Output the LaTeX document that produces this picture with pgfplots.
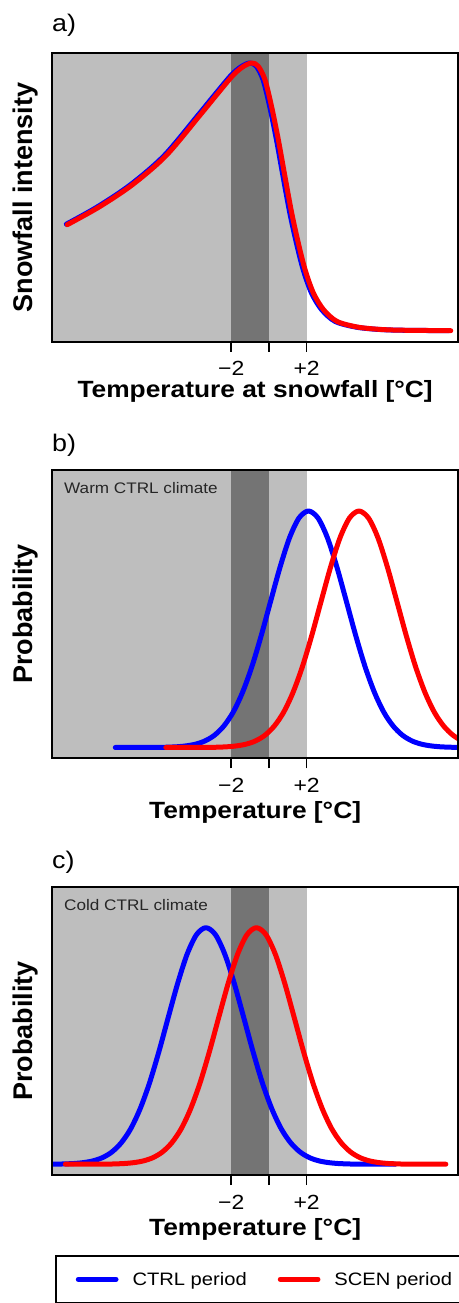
\documentclass[border=0pt]{standalone}
\usepackage{fontspec}
\setmainfont{Liberation Sans}
\newfontfamily\wide{Liberation Sans}[FakeStretch=1.12]
\usepackage{pgfplots}
\pgfplotsset{compat=1.18}
\definecolor{lightband}{RGB}{190,190,190}
\definecolor{darkband}{RGB}{116,116,116}
\definecolor{ctrlblue}{RGB}{0,0,255}
\definecolor{scenred}{RGB}{255,0,0}
\pgfplotsset{
  panel/.style={
    scale only axis, width=406.3bp, height=288.4bp,
    xmin=-11.51, xmax=10.05, ymin=0, ymax=288.4,
    axis on top,
    axis line style={line width=2bp},
    xtick={-2,0,2}, xticklabels={−2,,+2},
    ytick=\empty,
    xtick pos=left,
    tick align=outside,
    major tick length=10bp,
    every tick/.style={black, line width=1.5bp},
    xticklabel style={font=\wide\fontsize{20.5bp}{22bp}\selectfont, anchor=base, inner sep=0pt, yshift=-24bp},
    every axis y label/.style={at={(axis description cs:-0.0468,0.5)}, rotate=90, anchor=base, inner sep=0pt, font=\fontsize{27bp}{30bp}\selectfont\bfseries},
    every axis x label/.style={at={(axis description cs:0.5,0)}, anchor=base, inner sep=0pt, yshift=-60bp, font=\wide\fontsize{23.5bp}{26bp}\selectfont\bfseries},
    clip=true,
  },
  curve/.style={line width=5bp, line cap=round, line join=round, smooth, no markers},
  band/.style={draw=none, fill=#1, forget plot},
}
\begin{document}
\begin{tikzpicture}
\path[use as bounding box] (0bp,0bp) rectangle (459bp,1303bp);
\begin{scope}
\clip (0bp,0bp) rectangle (459bp,1303bp);

% ---------------- panel a
\begin{axis}[panel, at={(52bp,961.3bp)}, anchor=south west,
  xlabel={Temperature at snowfall [°C]}, ylabel={Snowfall intensity},
  every axis x label/.append style={yshift=4bp}]
\addplot[band=lightband] coordinates {(-11.51,288.4) (2,288.4)} \closedcycle;
\addplot[band=darkband] coordinates {(-2,288.4) (0,288.4)} \closedcycle;
\addplot[curve, ctrlblue] coordinates {(-10.75,117.5) (-9.11,134.7) (-7.34,157) (-5.56,186) (-3.78,226) (-2.89,246.5) (-2.00,266.5) (-1.47,275) (-1.02,278.7) (-0.67,275.5) (-0.31,262) (0.04,235.3) (0.40,202) (0.75,165.3) (1.11,128.7) (1.46,98.7) (1.82,72) (2.26,48.7) (2.80,32) (3.51,20.3) (4.58,14.7) (5.70,12.4) (6.89,11.5) (9.55,11)};
\addplot[curve, scenred] coordinates {(-10.70,117) (-9.01,134.7) (-7.24,157) (-5.46,186) (-3.68,226) (-2.79,246.5) (-1.90,266.5) (-1.37,275) (-0.92,278.7) (-0.57,275.5) (-0.21,262) (0.14,235.3) (0.50,202) (0.85,165.3) (1.21,128.7) (1.56,98.7) (1.92,72) (2.36,48.7) (2.90,32) (3.61,20.3) (4.68,14.7) (5.80,12.4) (6.99,11.5) (9.65,11)};
\end{axis}

% ---------------- panel b
\begin{axis}[panel, at={(52bp,544.7bp)}, anchor=south west,
  xlabel={Temperature [°C]}, ylabel={Probability}]
\addplot[band=lightband] coordinates {(-11.51,288.4) (2,288.4)} \closedcycle;
\addplot[band=darkband] coordinates {(-2,288.4) (0,288.4)} \closedcycle;
\addplot[curve, ctrlblue] table {
T y
-8.15 10.8
-5.9 10.9
-5.4 11.1
-4.9 11.5
-4.4 12.4
-3.9 14.1
-3.4 17.3
-2.9 22.9
-2.4 32.1
-1.9 46.0
-1.4 65.9
-0.9 91.8
-0.4 123.2
0.1 157.7
0.6 191.7
1.1 220.8
1.6 240.4
2.1 247.3
2.6 240.4
3.1 220.8
3.6 191.7
4.1 157.7
4.6 123.2
5.1 91.8
5.6 65.9
6.1 46.0
6.6 32.1
7.1 22.9
7.6 17.3
8.1 14.1
8.6 12.4
9.1 11.5
9.6 11.1
10.1 10.9
12.15 10.8
};
\addplot[curve, scenred] table {
T y
-5.47 10.8
-3.22 10.9
-2.72 11.1
-2.22 11.5
-1.72 12.4
-1.22 14.1
-0.72 17.3
-0.22 22.9
0.28 32.1
0.78 46.0
1.28 65.9
1.78 91.8
2.28 123.2
2.78 157.7
3.28 191.7
3.78 220.8
4.28 240.4
4.78 247.3
5.28 240.4
5.78 220.8
6.28 191.7
6.78 157.7
7.28 123.2
7.78 91.8
8.28 65.9
8.78 46.0
9.28 32.1
9.78 22.9
10.28 17.3
10.78 14.1
11.28 12.4
11.78 11.5
12.28 11.1
12.78 10.9
14.83 10.8
};
\node[anchor=base west, inner sep=0pt, text=black!85, font=\wide\fontsize{15.3bp}{17bp}\selectfont] at (rel axis cs:0.0295,0.9168) {Warm CTRL climate};
\end{axis}

% ---------------- panel c
\begin{axis}[panel, at={(52bp,128bp)}, anchor=south west,
  xlabel={Temperature [°C]}, ylabel={Probability},
  legend columns=2,
  legend cell align=left,
  legend image code/.code={\draw[#1, line width=5bp, line cap=round] (0bp,0bp) -- (37.7bp,0bp);},
  legend style={at={(axis description cs:0.0074,-0.2775)}, anchor=north west,
    draw=black, line width=2bp, inner xsep=19.8bp, inner ysep=16bp,
    font=\wide\fontsize{18bp}{20bp}\selectfont,
    nodes={inner sep=0pt},
    /tikz/every odd column/.append style={column sep=14bp},
    /tikz/every even column/.append style={column sep=31bp}}]
\addplot[band=lightband] coordinates {(-11.51,288.4) (2,288.4)} \closedcycle;
\addplot[band=darkband] coordinates {(-2,288.4) (0,288.4)} \closedcycle;
\addplot[curve, ctrlblue] table {
T y
-13.59 10.8
-11.34 10.9
-10.84 11.1
-10.34 11.5
-9.84 12.4
-9.34 14.1
-8.84 17.3
-8.34 22.9
-7.84 32.1
-7.34 46.0
-6.84 65.9
-6.34 91.8
-5.84 123.2
-5.34 157.7
-4.84 191.7
-4.34 220.8
-3.84 240.4
-3.34 247.3
-2.84 240.4
-2.34 220.8
-1.84 191.7
-1.34 157.7
-0.84 123.2
-0.34 91.8
0.16 65.9
0.66 46.0
1.16 32.1
1.66 22.9
2.16 17.3
2.66 14.1
3.16 12.4
3.66 11.5
4.16 11.1
4.66 10.9
6.71 10.8
};
\addlegendentry{CTRL period}
\addplot[curve, scenred] table {
T y
-10.80 10.8
-8.66 10.9
-8.16 11.1
-7.66 11.5
-7.16 12.4
-6.66 14.1
-6.16 17.3
-5.66 22.9
-5.16 32.1
-4.66 46.0
-4.16 65.9
-3.66 91.8
-3.16 123.2
-2.66 157.7
-2.16 191.7
-1.66 220.8
-1.16 240.4
-0.66 247.3
-0.16 240.4
0.34 220.8
0.84 191.7
1.34 157.7
1.84 123.2
2.34 91.8
2.84 65.9
3.34 46.0
3.84 32.1
4.34 22.9
4.84 17.3
5.34 14.1
5.84 12.4
6.34 11.5
6.84 11.1
7.34 10.9
9.39 10.8
};
\addlegendentry{SCEN period}
\node[anchor=base west, inner sep=0pt, text=black!85, font=\wide\fontsize{15.3bp}{17bp}\selectfont] at (rel axis cs:0.0295,0.9168) {Cold CTRL climate};
\end{axis}

% panel letters
\node[anchor=base west, inner sep=0pt, font=\wide\fontsize{24bp}{26bp}\selectfont] at (52bp,1271.3bp) {a)};
\node[anchor=base west, inner sep=0pt, font=\wide\fontsize{24bp}{26bp}\selectfont] at (52bp,851.3bp) {b)};
\node[anchor=base west, inner sep=0pt, font=\wide\fontsize{24bp}{26bp}\selectfont] at (52bp,434.7bp) {c)};
\end{scope}
\end{tikzpicture}
\end{document}
